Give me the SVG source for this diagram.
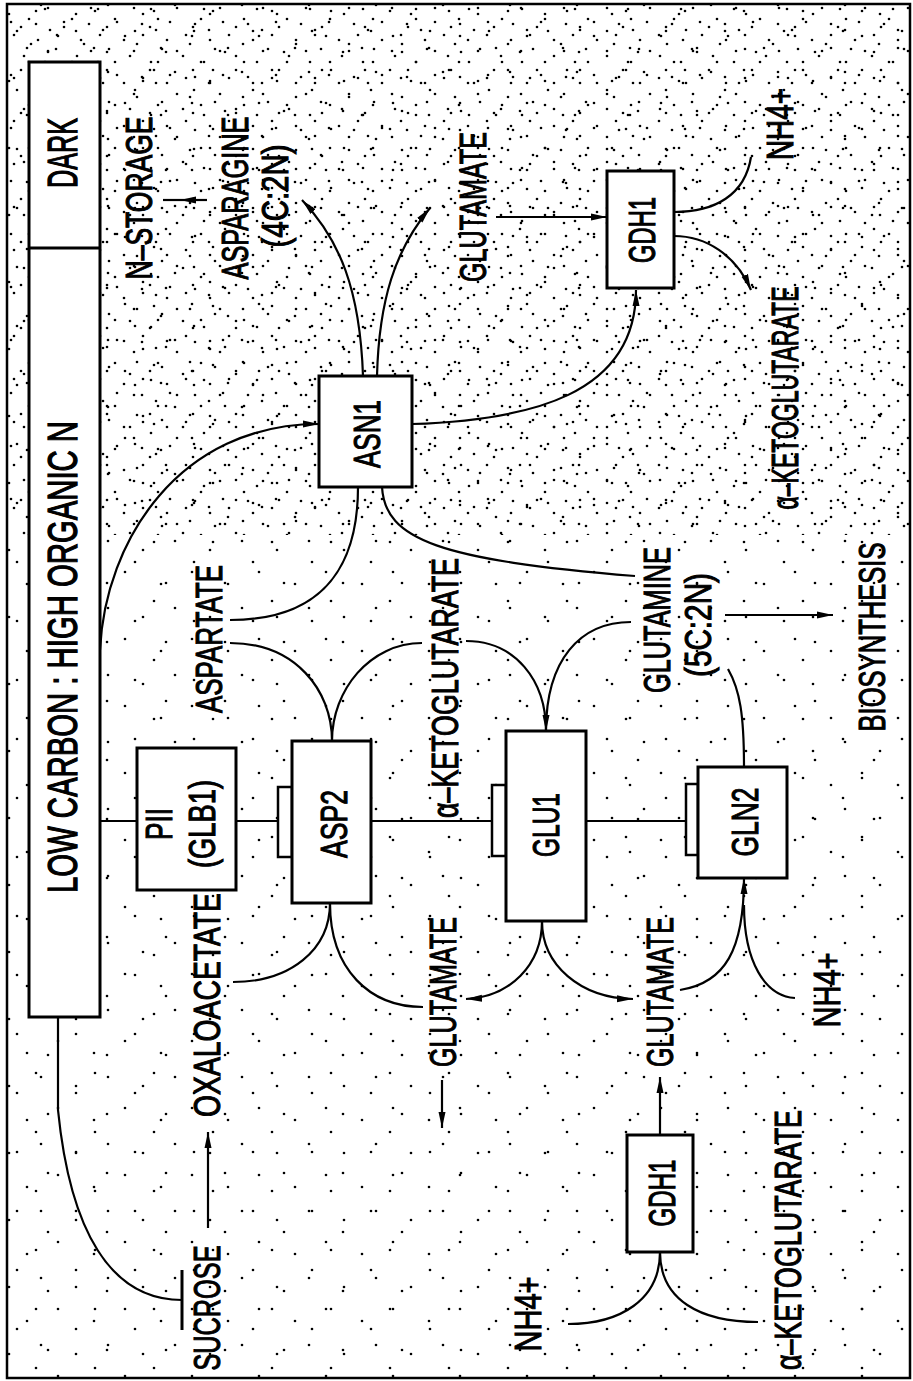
<svg xmlns="http://www.w3.org/2000/svg" width="913" height="1381" viewBox="0 0 913 1381">
<style>
.t{font-family:"Liberation Sans",Arial,sans-serif;font-size:37px;fill:#000;stroke:#000;stroke-width:1.1}
.big{font-size:42px;stroke-width:1.3}
.box{fill:#fff;stroke:#000;stroke-width:3}
.tab{fill:#fff;stroke:#000;stroke-width:2.5}
.c{fill:none;stroke:#000;stroke-width:2.2}
.d{fill:#000}
</style>
<defs>
<marker id="a" viewBox="0 0 16 10" markerWidth="16" markerHeight="10" refX="16" refY="5" orient="auto" markerUnits="userSpaceOnUse"><path d="M0,1.5 L16,5 L0,8.5 z" fill="#000"/></marker>
<pattern id="p1" width="67" height="67" patternUnits="userSpaceOnUse"><g class="d"><circle cx="9" cy="14" r="1.3"/><circle cx="41" cy="5" r="1.3"/><circle cx="27" cy="48" r="1.3"/><circle cx="58" cy="36" r="1.3"/></g></pattern>
<pattern id="p2" width="59" height="59" patternUnits="userSpaceOnUse"><g class="d"><circle cx="17" cy="31" r="1.3"/><circle cx="48" cy="52" r="1.3"/><circle cx="36" cy="11" r="1.3"/></g></pattern>
<pattern id="p3" width="43" height="43" patternUnits="userSpaceOnUse"><g class="d"><circle cx="5" cy="8" r="1.3"/><circle cx="29" cy="19" r="1.3"/><circle cx="14" cy="35" r="1.3"/><circle cx="38" cy="40" r="1.3"/><circle cx="21" cy="27" r="1.3"/></g></pattern>
<pattern id="p4" width="53" height="53" patternUnits="userSpaceOnUse"><g class="d"><circle cx="11" cy="22" r="1.3"/><circle cx="45" cy="9" r="1.3"/><circle cx="31" cy="44" r="1.3"/><circle cx="24" cy="3" r="1.3"/><circle cx="50" cy="30" r="1.3"/><circle cx="3" cy="49" r="1.3"/><circle cx="36" cy="24" r="1.3"/></g></pattern>
</defs>
<g id="background">
<rect x="0" y="0" width="913" height="1381" fill="#fff"/>
<rect x="7" y="4" width="903" height="1374" fill="url(#p1)"/>
<rect x="7" y="4" width="903" height="1374" fill="url(#p2)"/>
<rect x="7" y="4" width="903" height="531" fill="url(#p3)"/>
<rect x="7" y="4" width="903" height="531" fill="url(#p4)"/>
<rect x="7" y="4" width="903" height="1374" fill="none" stroke="#000" stroke-width="2.5"/>
</g>
<g id="connectors">
<path class="c" d="M207,200 L180,200" marker-end="url(#a)"/>
<path class="c" d="M180,200 L163,200"/>
<path class="c" d="M363,376 C360,290 340,240 302,200" marker-end="url(#a)"/>
<path class="c" d="M377,376 C379,300 395,250 430,208" marker-end="url(#a)"/>
<path class="c" d="M496,217 L607,217" marker-end="url(#a)"/>
<path class="c" d="M674,212 C715,212 745,195 751,157"/>
<path class="c" d="M674,236 C706,236 736,255 751,290" marker-end="url(#a)"/>
<path class="c" d="M412,424 C530,420 636,395 636,290" marker-end="url(#a)"/>
<path class="c" d="M100,650 C105,540 180,424 319,424" marker-end="url(#a)"/>
<path class="c" d="M358,487 C358,580 310,620 230,620"/>
<path class="c" d="M382,487 C385,540 440,560 635,576"/>
<path class="c" d="M332,741 C332,690 295,643 230,643"/>
<path class="c" d="M332,741 C332,690 370,643 422,643"/>
<path class="c" d="M466,641 C515,641 546,680 546,731" marker-end="url(#a)"/>
<path class="c" d="M631,622 C580,622 546,660 546,731"/>
<path class="c" d="M725,615 L833,615" marker-end="url(#a)"/>
<path class="c" d="M728,669 C740,690 744,715 744,767"/>
<path class="c" d="M100,821 H137 M236,821 H278 M371,821 H492 M586,821 H686"/>
<path class="c" d="M330,903 C330,950 290,982 233,982"/>
<path class="c" d="M330,903 C330,970 370,1007 423,1007"/>
<path class="c" d="M542,921 C542,965 510,997 466,999" marker-end="url(#a)"/>
<path class="c" d="M542,921 C542,965 580,998 633,999" marker-end="url(#a)"/>
<path class="c" d="M680,990 C725,983 744,950 744,878" marker-end="url(#a)"/>
<path class="c" d="M795,998 C765,996 744,962 744,905"/>
<path class="c" d="M660,1135 L660,1077" marker-end="url(#a)"/>
<path class="c" d="M660,1252 C660,1300 620,1324 568,1324"/>
<path class="c" d="M660,1252 C660,1300 700,1322 758,1322"/>
<path class="c" d="M208,1228 L208,1132" marker-end="url(#a)"/>
<path class="c" d="M58,1017 L58,1110 C70,1230 110,1300 182,1300"/>
<path d="M182,1270 V1330" stroke="#000" stroke-width="3" fill="none"/>
<path class="c" d="M442,1080 L442,1128" marker-end="url(#a)"/>
</g>
<g id="title">
<rect class="box" x="29" y="62" width="71" height="955"/>
<line x1="29" y1="248" x2="100" y2="248" stroke="#000" stroke-width="3"/>
<text class="t big" transform="translate(77,153) rotate(-90)" text-anchor="middle" textLength="70" lengthAdjust="spacingAndGlyphs">DARK</text>
<text class="t big" transform="translate(77,657) rotate(-90)" text-anchor="middle" textLength="472" lengthAdjust="spacingAndGlyphs">LOW CARBON : HIGH ORGANIC N</text>
</g>
<g id="PII">
<rect class="box" x="137" y="748" width="99" height="142"/>
<text class="t" transform="translate(172,824) rotate(-90)" text-anchor="middle" textLength="32" lengthAdjust="spacingAndGlyphs">PII</text>
<text class="t" transform="translate(215,824) rotate(-90)" text-anchor="middle" textLength="88" lengthAdjust="spacingAndGlyphs">(GLB1)</text>
</g>
<g id="ASP2">
<rect class="tab" x="278" y="787" width="14" height="70"/>
<rect class="box" x="292" y="741" width="79" height="162"/>
<text class="t" transform="translate(347,824) rotate(-90)" text-anchor="middle" textLength="68" lengthAdjust="spacingAndGlyphs">ASP2</text>
</g>
<g id="GLU1">
<rect class="tab" x="492" y="785" width="14" height="71"/>
<rect class="box" x="506" y="731" width="80" height="190"/>
<text class="t" transform="translate(559,825) rotate(-90)" text-anchor="middle" textLength="64" lengthAdjust="spacingAndGlyphs">GLU1</text>
</g>
<g id="GLN2">
<rect class="tab" x="686" y="784" width="12" height="71"/>
<rect class="box" x="698" y="767" width="89" height="111"/>
<text class="t" transform="translate(758,822) rotate(-90)" text-anchor="middle" textLength="69" lengthAdjust="spacingAndGlyphs">GLN2</text>
</g>
<g id="ASN1">
<rect class="box" x="319" y="376" width="93" height="111"/>
<text class="t" transform="translate(380,434) rotate(-90)" text-anchor="middle" textLength="68" lengthAdjust="spacingAndGlyphs">ASN1</text>
</g>
<g id="GDH1-top">
<rect class="box" x="607" y="171" width="67" height="117"/>
<text class="t" transform="translate(655,230) rotate(-90)" text-anchor="middle" textLength="66" lengthAdjust="spacingAndGlyphs">GDH1</text>
</g>
<g id="GDH1-bottom">
<rect class="box" x="627" y="1135" width="66" height="117"/>
<text class="t" transform="translate(675,1193) rotate(-90)" text-anchor="middle" textLength="67" lengthAdjust="spacingAndGlyphs">GDH1</text>
</g>
<g id="labels">
<text class="t" transform="translate(152,198) rotate(-90)" text-anchor="middle" textLength="163" lengthAdjust="spacingAndGlyphs">N–STORAGE</text>
<text class="t" transform="translate(248,198) rotate(-90)" text-anchor="middle" textLength="163" lengthAdjust="spacingAndGlyphs">ASPARAGINE</text>
<text class="t" transform="translate(288,196) rotate(-90)" text-anchor="middle" textLength="103" lengthAdjust="spacingAndGlyphs">(4C:2N)</text>
<text class="t" transform="translate(486,207) rotate(-90)" text-anchor="middle" textLength="150" lengthAdjust="spacingAndGlyphs">GLUTAMATE</text>
<text class="t" transform="translate(793,124) rotate(-90)" text-anchor="middle" textLength="72" lengthAdjust="spacingAndGlyphs">NH4+</text>
<text class="t" transform="translate(798,398) rotate(-90)" text-anchor="middle" textLength="223" lengthAdjust="spacingAndGlyphs">α–KETOGLUTARATE</text>
<text class="t" transform="translate(222,639) rotate(-90)" text-anchor="middle" textLength="148" lengthAdjust="spacingAndGlyphs">ASPARTATE</text>
<text class="t" transform="translate(458,688) rotate(-90)" text-anchor="middle" textLength="260" lengthAdjust="spacingAndGlyphs">α–KETOGLUTARATE</text>
<text class="t" transform="translate(670,620) rotate(-90)" text-anchor="middle" textLength="146" lengthAdjust="spacingAndGlyphs">GLUTAMINE</text>
<text class="t" transform="translate(711,625) rotate(-90)" text-anchor="middle" textLength="104" lengthAdjust="spacingAndGlyphs">(5C:2N)</text>
<text class="t" transform="translate(885,637) rotate(-90)" text-anchor="middle" textLength="189" lengthAdjust="spacingAndGlyphs">BIOSYNTHESIS</text>
<text class="t" transform="translate(220,1005) rotate(-90)" text-anchor="middle" textLength="224" lengthAdjust="spacingAndGlyphs">OXALOACETATE</text>
<text class="t" transform="translate(220,1308) rotate(-90)" text-anchor="middle" textLength="125" lengthAdjust="spacingAndGlyphs">SUCROSE</text>
<text class="t" transform="translate(456,992) rotate(-90)" text-anchor="middle" textLength="150" lengthAdjust="spacingAndGlyphs">GLUTAMATE</text>
<text class="t" transform="translate(673,992) rotate(-90)" text-anchor="middle" textLength="150" lengthAdjust="spacingAndGlyphs">GLUTAMATE</text>
<text class="t" transform="translate(840,990) rotate(-90)" text-anchor="middle" textLength="75" lengthAdjust="spacingAndGlyphs">NH4+</text>
<text class="t" transform="translate(541,1314) rotate(-90)" text-anchor="middle" textLength="75" lengthAdjust="spacingAndGlyphs">NH4+</text>
<text class="t" transform="translate(801,1240) rotate(-90)" text-anchor="middle" textLength="260" lengthAdjust="spacingAndGlyphs">α–KETOGLUTARATE</text>
</g>
</svg>
